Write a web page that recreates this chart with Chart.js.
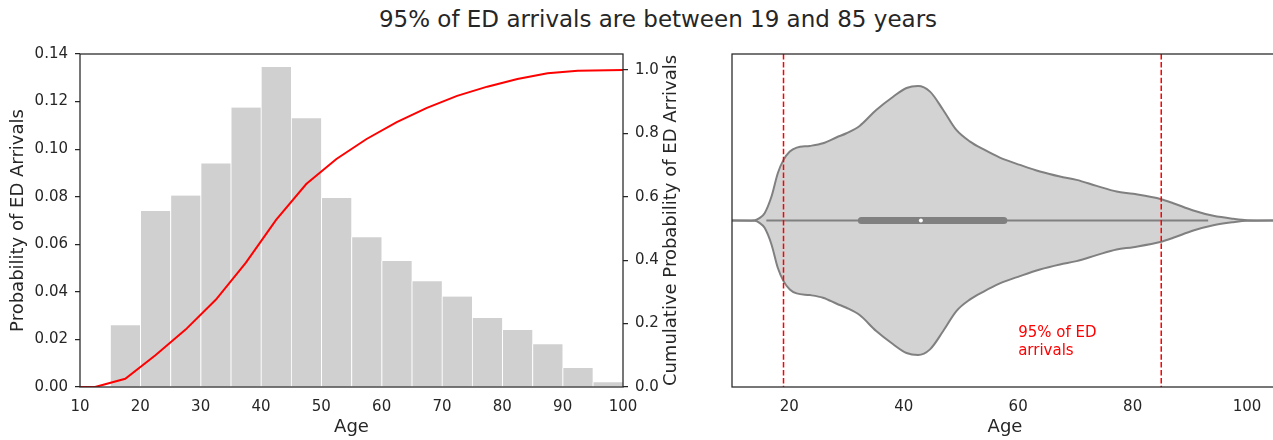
<!DOCTYPE html>
<html>
<head>
<meta charset="utf-8">
<script src="https://cdn.jsdelivr.net/npm/chart.js@4.4.0/dist/chart.umd.min.js"></script>
<style>
  body { margin: 0; width: 1273px; height: 440px; overflow: hidden; background: #fff; position: relative; font-family: "DejaVu Sans", sans-serif; }
  #title { position: absolute; top: 8px; left: 658px; transform: translateX(-50%); font-size: 23px; line-height: 23px; color: #262626; white-space: nowrap; }
  #histo { position: absolute; left: 0; top: 0; }
  #violin { position: absolute; left: 690px; top: 0; }
</style>
</head>
<body>
<div id="title">95% of ED arrivals are between 19 and 85 years</div>
<canvas id="histo" width="700" height="440"></canvas>
<canvas id="violin" width="600" height="440"></canvas>
<script>
// left panel: arrivals by age, 5 year bins, plus the cumulative curve
const binMids = [12.5, 17.5, 22.5, 27.5, 32.5, 37.5, 42.5, 47.5, 52.5, 57.5, 62.5, 67.5, 72.5, 77.5, 82.5, 87.5, 92.5, 97.5];
const binProb = [0, 0.026, 0.074, 0.0805, 0.094, 0.1175, 0.1345, 0.113, 0.0795, 0.063, 0.053, 0.0445, 0.038, 0.029, 0.024, 0.018, 0.008, 0.002];
const cumAges = [7.5, 12.5, 17.5, 22.5, 27.5, 32.5, 37.5, 42.5, 47.5, 52.5, 57.5, 62.5, 67.5, 72.5, 77.5, 82.5, 87.5, 92.5, 97.5, 102.5];
const cumProb = [0, 0, 0.026, 0.100, 0.181, 0.275, 0.392, 0.527, 0.640, 0.719, 0.782, 0.835, 0.880, 0.918, 0.947, 0.971, 0.989, 0.997, 0.999, 1.0];
const ageTicks = [10, 20, 30, 40, 50, 60, 70, 80, 90, 100];
const probTicks = [0, 0.02, 0.04, 0.06, 0.08, 0.10, 0.12, 0.14];
const cumTicks = [0, 0.2, 0.4, 0.6, 0.8, 1.0];

// right panel: violin of ages
const violinAges = [10, 14, 14.8, 15.7, 16.9, 18.0, 19.0, 20.1, 21.3, 23.6, 25.9, 28.3, 30.0, 32.3, 35.2, 38.1, 40.5, 42.5, 44.6, 46.9, 49.2, 51.6, 53.9, 56.8, 60.3, 63.8, 67.3, 70.2, 73.7, 77.2, 80.1, 85.0, 87.1, 90.6, 94.1, 97.6, 100, 105.4];
const violinHalf = [0, 0.001, 0.007, 0.022, 0.072, 0.142, 0.182, 0.207, 0.219, 0.224, 0.232, 0.250, 0.262, 0.284, 0.332, 0.371, 0.398, 0.404, 0.387, 0.332, 0.272, 0.237, 0.214, 0.189, 0.167, 0.147, 0.132, 0.122, 0.104, 0.087, 0.080, 0.064, 0.052, 0.030, 0.014, 0.005, 0.001, 0];
const whisker = [16, 93.2];
const quartiles = [32.6, 57.5];
const median = 43.0;
const cutoffs = [19, 85];
const violinTicks = [20, 40, 60, 80, 100];
const noteLines = ['95% of ED', 'arrivals'];
const noteAt = [60, 0.35];

Chart.defaults.font.family = '"DejaVu Sans", sans-serif';
Chart.defaults.color = '#262626';

const ink = '#262626';

const frame = {
  id: 'frame',
  afterDatasetsDraw(chart) {
    const {ctx, chartArea: a} = chart;
    ctx.save();
    ctx.strokeStyle = ink;
    ctx.lineWidth = 1.25;
    ctx.strokeRect(a.left, a.top, a.right - a.left, a.bottom - a.top);
    ctx.restore();
  }
};

// matplotlib twin axis label reads bottom to top
const rightTitle = {
  id: 'rightTitle',
  afterDraw(chart) {
    const s = chart.scales.y1;
    const ctx = chart.ctx;
    ctx.save();
    ctx.translate(s.left + 48.5, (s.top + s.bottom) / 2);
    ctx.rotate(-Math.PI / 2);
    ctx.font = '18px "DejaVu Sans"';
    ctx.fillStyle = ink;
    ctx.textAlign = 'center';
    ctx.textBaseline = 'middle';
    ctx.fillText('Cumulative Probability of ED Arrivals', 0, 0);
    ctx.restore();
  }
};

const note = {
  id: 'note',
  afterDraw(chart) {
    const {ctx, scales} = chart;
    const x = scales.x.getPixelForValue(noteAt[0]);
    const y = scales.y.getPixelForValue(noteAt[1]);
    ctx.save();
    ctx.font = '15px "DejaVu Sans"';
    ctx.fillStyle = 'red';
    ctx.textBaseline = 'alphabetic';
    noteLines.forEach((t, i) => ctx.fillText(t, x, y + i * 17.5));
    ctx.restore();
  }
};

const tickMarks = { drawOnChartArea: false, tickLength: 5, color: ink, lineWidth: 1.25 };

new Chart(document.getElementById('histo'), {
  type: 'bar',
  data: {
    datasets: [
      {
        type: 'line',
        data: cumAges.map((a, i) => ({x: a, y: cumProb[i]})),
        yAxisID: 'y1',
        borderColor: 'red',
        borderWidth: 2,
        pointRadius: 0,
        order: 0
      },
      {
        type: 'bar',
        data: binMids.map((a, i) => ({x: a, y: binProb[i]})),
        yAxisID: 'y',
        backgroundColor: '#d0d0d0',
        borderColor: '#ffffff',
        borderWidth: {left: 1, right: 0.5, top: 0, bottom: 0},
        barPercentage: 1,
        categoryPercentage: 1,
        order: 1
      }
    ]
  },
  options: {
    responsive: false,
    animation: false,
    events: [],
    layout: { padding: { top: 54 } },
    plugins: { legend: { display: false }, tooltip: { enabled: false } },
    scales: {
      x: {
        type: 'linear', min: 10, max: 100, offset: false,
        afterBuildTicks: s => { s.ticks = ageTicks.map(v => ({value: v})); },
        afterFit: s => { s.height = 53; },
        grid: { display: false },
        border: { display: false },
        ticks: { padding: 3, font: { size: 15 } },
        title: { display: true, text: 'Age', font: { size: 18 }, padding: { top: 0, bottom: 2 } }
      },
      y: {
        position: 'left', min: 0, max: 0.14,
        afterBuildTicks: s => { s.ticks = probTicks.map(v => ({value: v})); },
        afterFit: s => { s.width = 80; },
        grid: tickMarks,
        border: { display: false },
        ticks: { padding: 7, font: { size: 15 }, callback: v => v.toFixed(2) },
        title: { display: true, text: 'Probability of ED Arrivals', font: { size: 18 }, padding: { top: 8, bottom: 0 } }
      },
      y1: {
        position: 'right', min: 0, max: 1.05,
        afterBuildTicks: s => { s.ticks = cumTicks.map(v => ({value: v})); },
        afterFit: s => { s.width = 77; },
        grid: tickMarks,
        border: { display: false },
        ticks: { padding: 7, font: { size: 15 }, callback: v => v.toFixed(1) }
      }
    }
  },
  plugins: [frame, rightTitle]
});

const gray = '#808080';

new Chart(document.getElementById('violin'), {
  type: 'line',
  data: {
    datasets: [
      {
        data: violinAges.map((a, i) => ({x: a, y: -violinHalf[i]})),
        borderColor: gray, borderWidth: 2, backgroundColor: '#d3d3d3',
        fill: '+1', pointRadius: 0, cubicInterpolationMode: 'monotone', order: 10
      },
      {
        data: violinAges.map((a, i) => ({x: a, y: violinHalf[i]})),
        borderColor: gray, borderWidth: 2,
        fill: false, pointRadius: 0, cubicInterpolationMode: 'monotone', order: 9
      },
      {
        data: whisker.map(a => ({x: a, y: 0})),
        borderColor: gray, borderWidth: 2, pointRadius: 0, order: 5
      },
      {
        data: quartiles.map(a => ({x: a, y: 0})),
        borderColor: gray, borderWidth: 7, borderCapStyle: 'round', pointRadius: 0, order: 4
      },
      {
        data: [{x: median, y: 0}],
        showLine: false, pointRadius: 2, pointBackgroundColor: '#ffffff', pointBorderWidth: 0, order: 3
      },
      ...cutoffs.map(c => ({
        data: [{x: c, y: -0.5}, {x: c, y: 0.5}],
        borderColor: 'red', borderWidth: 1.5, borderDash: [5.5, 2.4], pointRadius: 0, order: 1
      }))
    ]
  },
  options: {
    responsive: false,
    animation: false,
    events: [],
    layout: { padding: { top: 54, left: 42, right: 12 } },
    plugins: { legend: { display: false }, tooltip: { enabled: false } },
    scales: {
      x: {
        type: 'linear', min: 10, max: 105.4,
        afterBuildTicks: s => { s.ticks = violinTicks.map(v => ({value: v})); },
        afterFit: s => { s.height = 53; },
        grid: { display: false },
        border: { display: false },
        ticks: { padding: 3, font: { size: 15 } },
        title: { display: true, text: 'Age', font: { size: 18 }, padding: { top: 0, bottom: 2 } }
      },
      y: { type: 'linear', display: false, min: -0.5, max: 0.5, reverse: true }
    }
  },
  plugins: [frame, note]
});
</script>
</body>
</html>
